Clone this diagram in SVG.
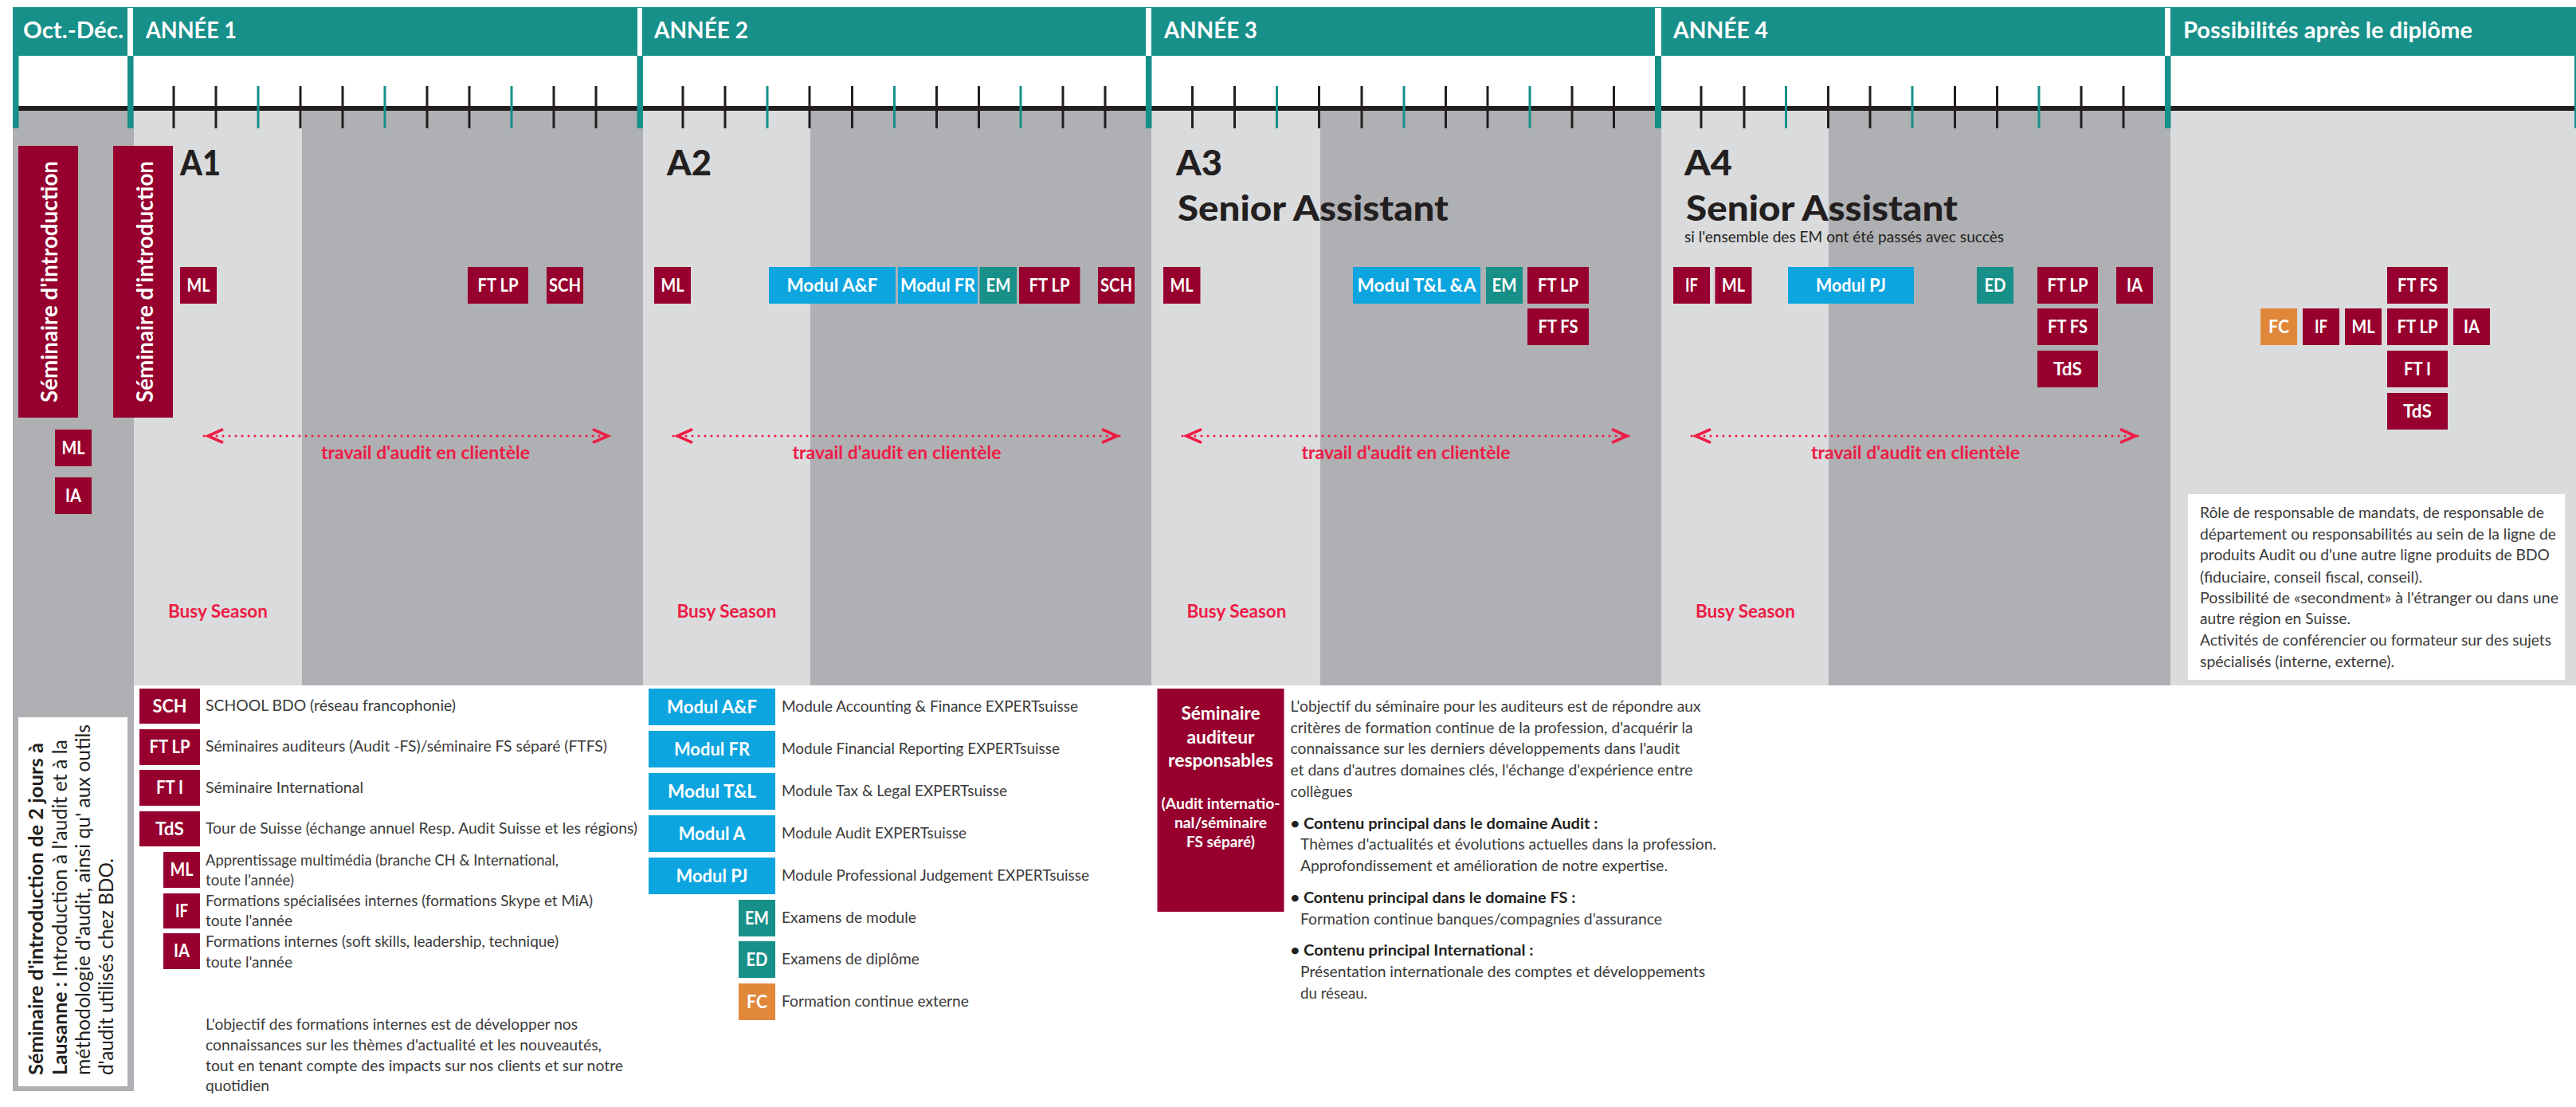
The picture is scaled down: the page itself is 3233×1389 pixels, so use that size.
<svg xmlns="http://www.w3.org/2000/svg" width="3233" height="1389" viewBox="0 0 3233 1389">
<style>
text{font-family:"Lato","Noto Sans","Liberation Sans",sans-serif}
.teal{fill:#17908a}.red{fill:#97002e}.blue{fill:#0da5e0}.org{fill:#e1873a}.lg{fill:#dadbdd}.dg{fill:#afb0b3}.wh{fill:#fff}
.b{fill:#fff;font-size:22px;font-weight:700;text-anchor:middle}
.h{fill:#fff;font-size:28px;font-weight:700}
.y{fill:#231f20;font-size:44px;font-weight:900}
.r{fill:#ed1c45;font-size:22px;font-weight:700}
.t{fill:#3a3a3a;font-size:18.5px}
.tb{fill:#231f20;font-size:18.5px;font-weight:700}
.v{fill:#fff;font-size:29px;font-weight:700}
.s{fill:#231f20;font-size:25px}
.sb{fill:#231f20;font-size:25px;font-weight:700}
.m{fill:#fff;font-size:22px;font-weight:700;text-anchor:middle}
.m2{fill:#fff;font-size:19.5px;font-weight:700;text-anchor:middle}
.tk{stroke:#231f20;stroke-width:3}.tk2{stroke:#17908a;stroke-width:3}
.arr{stroke:#ed1c45;stroke-width:3;stroke-linecap:round;stroke-dasharray:0 8;fill:none;marker-start:url(#chev);marker-end:url(#chev)}
</style>
<defs>
<marker id="chev" viewBox="0 0 30 22" refX="28" refY="11" markerWidth="30" markerHeight="22" markerUnits="userSpaceOnUse" orient="auto-start-reverse" overflow="visible"><path d="M4,2.700L23,11L4,19.300" fill="none" stroke="#ed1c45" stroke-width="3.600" stroke-dasharray="none"/></marker>
</defs>
<g id="background">
<rect class="dg" x="16" y="139" width="152" height="1230"/>
<rect class="lg" x="168" y="139" width="211" height="721"/>
<rect class="dg" x="379" y="139" width="428" height="721"/>
<rect class="lg" x="807" y="139" width="210" height="721"/>
<rect class="dg" x="1017" y="139" width="428" height="721"/>
<rect class="lg" x="1445" y="139" width="212" height="721"/>
<rect class="dg" x="1657" y="139" width="428" height="721"/>
<rect class="lg" x="2085" y="139" width="210" height="721"/>
<rect class="dg" x="2295" y="139" width="429" height="721"/>
<rect class="lg" x="2724" y="139" width="509" height="721"/>
</g>
<g id="timeline">
<rect x="16" y="133" width="3217" height="6" fill="#231f20"/>
<rect class="teal" x="16" y="9" width="3217" height="61"/>
<g class="wh"><rect x="160" y="10" width="7" height="60"/><rect x="800" y="10" width="6" height="60"/><rect x="1438" y="10" width="7" height="60"/><rect x="2077" y="10" width="8" height="60"/><rect x="2717" y="10" width="7" height="60"/></g>
<g class="teal"><rect x="16" y="70" width="7.500" height="91"/><rect x="160" y="70" width="7.500" height="91"/><rect x="799.500" y="70" width="7.500" height="91"/><rect x="1438" y="70" width="7.500" height="91"/><rect x="2077" y="70" width="8" height="91"/><rect x="2717" y="70" width="7.500" height="91"/><rect x="3231" y="70" width="2" height="91"/></g>
<g class="tk"><path d="M218,108V161M271,108V161M377,108V161M430,108V161M536,108V161M589,108V161M695,108V161M748,108V161M857,108V161M910,108V161M1016,108V161M1069.500,108V161M1175.500,108V161M1228.500,108V161M1334,108V161M1387,108V161M1496.500,108V161M1549.500,108V161M1655.500,108V161M1709,108V161M1814.500,108V161M1867,108V161M1973,108V161M2025.500,108V161M2135,108V161M2189,108V161M2294.500,108V161M2347,108V161M2453.500,108V161M2506.500,108V161M2612,108V161M2665,108V161"/></g>
<g class="tk2"><path d="M324,108V161M483,108V161M642,108V161M963,108V161M1122.500,108V161M1281,108V161M1602.500,108V161M1762,108V161M1920,108V161M2241.500,108V161M2400,108V161M2559,108V161"/></g>
</g>
<g id="headers">
<text class="h" x="29" y="48" textLength="126" lengthAdjust="spacingAndGlyphs">Oct.-Déc.</text>
<text class="h" x="183" y="48" textLength="114" lengthAdjust="spacingAndGlyphs">ANNÉE 1</text>
<text class="h" x="821" y="48" textLength="118" lengthAdjust="spacingAndGlyphs">ANNÉE 2</text>
<text class="h" x="1461" y="48" textLength="117" lengthAdjust="spacingAndGlyphs">ANNÉE 3</text>
<text class="h" x="2100" y="48" textLength="119" lengthAdjust="spacingAndGlyphs">ANNÉE 4</text>
<text class="h" x="2740" y="48" textLength="363" lengthAdjust="spacingAndGlyphs">Possibilités après le diplôme</text>
</g>
<g id="titles">
<text class="y" x="226" y="220" textLength="51" lengthAdjust="spacingAndGlyphs">A1</text>
<text class="y" x="837" y="220" textLength="56" lengthAdjust="spacingAndGlyphs">A2</text>
<text class="y" x="1476" y="220" textLength="58" lengthAdjust="spacingAndGlyphs">A3</text>
<text class="y" x="2114" y="220" textLength="60" lengthAdjust="spacingAndGlyphs">A4</text>
<text class="y" x="1478" y="277" textLength="340" lengthAdjust="spacingAndGlyphs">Senior Assistant</text>
<text class="y" x="2116" y="277" textLength="341" lengthAdjust="spacingAndGlyphs">Senior Assistant</text>
<text class="t" x="2114" y="304" textLength="401" lengthAdjust="spacingAndGlyphs" style="fill:#231f20">si l'ensemble des EM ont été passés avec succès</text>
</g>
<g id="intro-1"><rect class="red" x="23" y="183" width="75" height="341"/><text class="v" transform="translate(72,505) rotate(-90)" textLength="303" lengthAdjust="spacingAndGlyphs">Séminaire d'introduction</text></g>
<g id="intro-2"><rect class="red" x="142" y="183" width="75" height="341"/><text class="v" transform="translate(192,505) rotate(-90)" textLength="303" lengthAdjust="spacingAndGlyphs">Séminaire d'introduction</text></g>
<g id="o-ml"><rect class="red" x="69" y="539" width="46" height="46"/><text class="b" x="92" y="570" textLength="29" lengthAdjust="spacingAndGlyphs">ML</text></g>
<g id="o-ia"><rect class="red" x="69" y="599" width="46" height="46"/><text class="b" x="92" y="630" textLength="20" lengthAdjust="spacingAndGlyphs">IA</text></g>

<g id="y1-ml"><rect class="red" x="226" y="335" width="46" height="46"/><text class="b" x="249" y="366" textLength="29" lengthAdjust="spacingAndGlyphs">ML</text></g>
<g id="y1-ftlp"><rect class="red" x="587" y="335" width="76" height="46"/><text class="b" x="625" y="366" textLength="51" lengthAdjust="spacingAndGlyphs">FT LP</text></g>
<g id="y1-sch"><rect class="red" x="686" y="335" width="46" height="46"/><text class="b" x="709" y="366" textLength="40" lengthAdjust="spacingAndGlyphs">SCH</text></g>

<g id="y2-ml"><rect class="red" x="821" y="335" width="46" height="46"/><text class="b" x="844" y="366" textLength="29" lengthAdjust="spacingAndGlyphs">ML</text></g>
<g id="y2-af"><rect class="blue" x="965" y="335" width="159" height="46"/><text class="b" x="1044.500" y="366" textLength="114" lengthAdjust="spacingAndGlyphs">Modul A&amp;F</text></g>
<g id="y2-fr"><rect class="blue" x="1127" y="335" width="100" height="46"/><text class="b" x="1177" y="366" textLength="94" lengthAdjust="spacingAndGlyphs">Modul FR</text></g>
<g id="y2-em"><rect class="teal" x="1229.500" y="335" width="46.500" height="46"/><text class="b" x="1253" y="366" textLength="31" lengthAdjust="spacingAndGlyphs">EM</text></g>
<g id="y2-ftlp"><rect class="red" x="1279" y="335" width="76.500" height="46"/><text class="b" x="1317" y="366" textLength="51" lengthAdjust="spacingAndGlyphs">FT LP</text></g>
<g id="y2-sch"><rect class="red" x="1378" y="335" width="46" height="46"/><text class="b" x="1401" y="366" textLength="40" lengthAdjust="spacingAndGlyphs">SCH</text></g>

<g id="y3-ml"><rect class="red" x="1460" y="335" width="46.500" height="46"/><text class="b" x="1483" y="366" textLength="29" lengthAdjust="spacingAndGlyphs">ML</text></g>
<g id="y3-tla"><rect class="blue" x="1698" y="335" width="160" height="46"/><text class="b" x="1778" y="366" textLength="149" lengthAdjust="spacingAndGlyphs">Modul T&amp;L &amp;A</text></g>
<g id="y3-em"><rect class="teal" x="1865" y="335" width="46" height="46"/><text class="b" x="1888" y="366" textLength="31" lengthAdjust="spacingAndGlyphs">EM</text></g>
<g id="y3-ftlp"><rect class="red" x="1917" y="335" width="77" height="46"/><text class="b" x="1955.500" y="366" textLength="51" lengthAdjust="spacingAndGlyphs">FT LP</text></g>
<g id="y3-ftfs"><rect class="red" x="1917" y="387" width="77" height="46"/><text class="b" x="1955.500" y="418" textLength="50" lengthAdjust="spacingAndGlyphs">FT FS</text></g>

<g id="y4-if"><rect class="red" x="2100" y="335" width="46" height="46"/><text class="b" x="2123" y="366" textLength="16" lengthAdjust="spacingAndGlyphs">IF</text></g>
<g id="y4-ml"><rect class="red" x="2152.500" y="335" width="46" height="46"/><text class="b" x="2175.500" y="366" textLength="29" lengthAdjust="spacingAndGlyphs">ML</text></g>
<g id="y4-pj"><rect class="blue" x="2244" y="335" width="158" height="46"/><text class="b" x="2323" y="366" textLength="88" lengthAdjust="spacingAndGlyphs">Modul PJ</text></g>
<g id="y4-ed"><rect class="teal" x="2481" y="335" width="46" height="46"/><text class="b" x="2504" y="366" textLength="27" lengthAdjust="spacingAndGlyphs">ED</text></g>
<g id="y4-ftlp"><rect class="red" x="2557" y="335" width="76" height="46"/><text class="b" x="2595" y="366" textLength="51" lengthAdjust="spacingAndGlyphs">FT LP</text></g>
<g id="y4-ia"><rect class="red" x="2656" y="335" width="46" height="46"/><text class="b" x="2679" y="366" textLength="20" lengthAdjust="spacingAndGlyphs">IA</text></g>
<g id="y4-ftfs"><rect class="red" x="2557" y="387" width="76" height="46"/><text class="b" x="2595" y="418" textLength="50" lengthAdjust="spacingAndGlyphs">FT FS</text></g>
<g id="y4-tds"><rect class="red" x="2557" y="440" width="76" height="46"/><text class="b" x="2595" y="471" textLength="36" lengthAdjust="spacingAndGlyphs">TdS</text></g>

<g id="p-ftfs"><rect class="red" x="2996" y="335" width="76" height="46"/><text class="b" x="3034" y="366" textLength="50" lengthAdjust="spacingAndGlyphs">FT FS</text></g>
<g id="p-fc"><rect class="org" x="2837" y="387" width="46" height="46"/><text class="b" x="2860" y="418" textLength="26" lengthAdjust="spacingAndGlyphs">FC</text></g>
<g id="p-if"><rect class="red" x="2890" y="387" width="46" height="46"/><text class="b" x="2913" y="418" textLength="16" lengthAdjust="spacingAndGlyphs">IF</text></g>
<g id="p-ml"><rect class="red" x="2943" y="387" width="46" height="46"/><text class="b" x="2966" y="418" textLength="29" lengthAdjust="spacingAndGlyphs">ML</text></g>
<g id="p-ftlp"><rect class="red" x="2996" y="387" width="76" height="46"/><text class="b" x="3034" y="418" textLength="51" lengthAdjust="spacingAndGlyphs">FT LP</text></g>
<g id="p-ia"><rect class="red" x="3079" y="387" width="46" height="46"/><text class="b" x="3102" y="418" textLength="20" lengthAdjust="spacingAndGlyphs">IA</text></g>
<g id="p-fti"><rect class="red" x="2996" y="440" width="76" height="46"/><text class="b" x="3034" y="471" textLength="34" lengthAdjust="spacingAndGlyphs">FT I</text></g>
<g id="p-tds"><rect class="red" x="2996" y="493" width="76" height="46"/><text class="b" x="3034" y="524" textLength="36" lengthAdjust="spacingAndGlyphs">TdS</text></g>

<g id="connectors">
<line class="arr" x1="256" y1="547" x2="768" y2="547"/>
<line class="arr" x1="845" y1="547" x2="1407" y2="547"/>
<line class="arr" x1="1484" y1="547" x2="2047" y2="547"/>
<line class="arr" x1="2123" y1="547" x2="2685" y2="547"/>
</g>
<g id="red-labels">
<text class="r" x="403" y="576" textLength="262" lengthAdjust="spacingAndGlyphs">travail d'audit en clientèle</text>
<text class="r" x="994.500" y="576" textLength="262" lengthAdjust="spacingAndGlyphs">travail d'audit en clientèle</text>
<text class="r" x="1633.500" y="576" textLength="262" lengthAdjust="spacingAndGlyphs">travail d'audit en clientèle</text>
<text class="r" x="2273" y="576" textLength="262" lengthAdjust="spacingAndGlyphs">travail d'audit en clientèle</text>
<text class="r" x="211" y="775" textLength="125" lengthAdjust="spacingAndGlyphs">Busy Season</text>
<text class="r" x="849.500" y="775" textLength="125" lengthAdjust="spacingAndGlyphs">Busy Season</text>
<text class="r" x="1489.500" y="775" textLength="125" lengthAdjust="spacingAndGlyphs">Busy Season</text>
<text class="r" x="2128" y="775" textLength="125" lengthAdjust="spacingAndGlyphs">Busy Season</text>
</g>

<g id="career-note"><rect class="wh" x="2746" y="620" width="473" height="233"/>
<text class="t" x="2761" y="650" textLength="432" lengthAdjust="spacingAndGlyphs">Rôle de responsable de mandats, de responsable de</text>
<text class="t" x="2761" y="677" textLength="447" lengthAdjust="spacingAndGlyphs">département ou responsabilités au sein de la ligne de</text>
<text class="t" x="2761" y="703" textLength="439" lengthAdjust="spacingAndGlyphs">produits Audit ou d'une autre ligne produits de BDO</text>
<text class="t" x="2761" y="731" textLength="279" lengthAdjust="spacingAndGlyphs">(fiduciaire, conseil fiscal, conseil).</text>
<text class="t" x="2761" y="757" textLength="450" lengthAdjust="spacingAndGlyphs">Possibilité de «secondment» à l'étranger ou dans une</text>
<text class="t" x="2761" y="783" textLength="189" lengthAdjust="spacingAndGlyphs">autre région en Suisse.</text>
<text class="t" x="2761" y="810" textLength="441" lengthAdjust="spacingAndGlyphs">Activités de conférencier ou formateur sur des sujets</text>
<text class="t" x="2761" y="837" textLength="244" lengthAdjust="spacingAndGlyphs">spécialisés (interne, externe).</text>
</g>

<g id="intro-note"><rect class="wh" x="23" y="900" width="137" height="463"/>
<text class="sb" transform="translate(54,1349) rotate(-90)" textLength="417" lengthAdjust="spacingAndGlyphs">Séminaire d'introduction de 2 jours à</text>
<text class="s" transform="translate(84,1349) rotate(-90)" textLength="421" lengthAdjust="spacingAndGlyphs"><tspan class="sb">Lausanne :</tspan> Introduction à l'audit et à la</text>
<text class="s" transform="translate(112.500,1349) rotate(-90)" textLength="440" lengthAdjust="spacingAndGlyphs">méthodologie d'audit, ainsi qu' aux outils</text>
<text class="s" transform="translate(142,1349) rotate(-90)" textLength="272" lengthAdjust="spacingAndGlyphs">d'audit utilisés chez BDO.</text>
</g>

<g id="lg-sch"><rect class="red" x="175" y="864" width="76" height="44"/><text class="b" x="213" y="894" textLength="43" lengthAdjust="spacingAndGlyphs">SCH</text><text class="t" x="258" y="892" textLength="314" lengthAdjust="spacingAndGlyphs">SCHOOL BDO (réseau francophonie)</text></g>
<g id="lg-ftlp"><rect class="red" x="175" y="915" width="76" height="45"/><text class="b" x="213" y="945" textLength="51" lengthAdjust="spacingAndGlyphs">FT LP</text><text class="t" x="258" y="943" textLength="504" lengthAdjust="spacingAndGlyphs">Séminaires auditeurs (Audit -FS)/séminaire FS séparé (FTFS)</text></g>
<g id="lg-fti"><rect class="red" x="175" y="966" width="76" height="45"/><text class="b" x="213" y="996" textLength="34" lengthAdjust="spacingAndGlyphs">FT I</text><text class="t" x="258" y="995" textLength="198" lengthAdjust="spacingAndGlyphs">Séminaire International</text></g>
<g id="lg-tds"><rect class="red" x="175" y="1018" width="76" height="44"/><text class="b" x="213" y="1048" textLength="36" lengthAdjust="spacingAndGlyphs">TdS</text><text class="t" x="258" y="1046" textLength="542" lengthAdjust="spacingAndGlyphs">Tour de Suisse (échange annuel Resp. Audit Suisse et les régions)</text></g>
<g id="lg-ml"><rect class="red" x="205" y="1069" width="46" height="45"/><text class="b" x="228" y="1099" textLength="29" lengthAdjust="spacingAndGlyphs">ML</text><text class="t" x="258" y="1086" textLength="443" lengthAdjust="spacingAndGlyphs">Apprentissage multimédia (branche CH &amp; International,</text><text class="t" x="258" y="1111" textLength="111" lengthAdjust="spacingAndGlyphs">toute l'année)</text></g>
<g id="lg-if"><rect class="red" x="205" y="1121" width="46" height="44"/><text class="b" x="228" y="1151" textLength="16" lengthAdjust="spacingAndGlyphs">IF</text><text class="t" x="258" y="1137" textLength="486" lengthAdjust="spacingAndGlyphs">Formations spécialisées internes (formations Skype et MiA)</text><text class="t" x="258" y="1162" textLength="109" lengthAdjust="spacingAndGlyphs">toute l'année</text></g>
<g id="lg-ia"><rect class="red" x="205" y="1171" width="46" height="45"/><text class="b" x="228" y="1201" textLength="20" lengthAdjust="spacingAndGlyphs">IA</text><text class="t" x="258" y="1188" textLength="443" lengthAdjust="spacingAndGlyphs">Formations internes (soft skills, leadership, technique)</text><text class="t" x="258" y="1214" textLength="109" lengthAdjust="spacingAndGlyphs">toute l'année</text></g>
<g id="internal-note">
<text class="t" x="258" y="1292" textLength="467" lengthAdjust="spacingAndGlyphs">L'objectif des formations internes est de développer nos</text>
<text class="t" x="258" y="1318" textLength="497" lengthAdjust="spacingAndGlyphs">connaissances sur les thèmes d'actualité et les nouveautés,</text>
<text class="t" x="258" y="1344" textLength="524" lengthAdjust="spacingAndGlyphs">tout en tenant compte des impacts sur nos clients et sur notre</text>
<text class="t" x="258" y="1369" textLength="80" lengthAdjust="spacingAndGlyphs">quotidien</text>
</g>

<g id="lg-af"><rect class="blue" x="814" y="864" width="159" height="46"/><text class="b" x="893.500" y="895" textLength="113" lengthAdjust="spacingAndGlyphs">Modul A&amp;F</text><text class="t" x="981" y="893" textLength="372" lengthAdjust="spacingAndGlyphs">Module Accounting &amp; Finance EXPERTsuisse</text></g>
<g id="lg-fr"><rect class="blue" x="814" y="917" width="159" height="46"/><text class="b" x="893.500" y="948" textLength="95" lengthAdjust="spacingAndGlyphs">Modul FR</text><text class="t" x="981" y="946" textLength="349" lengthAdjust="spacingAndGlyphs">Module Financial Reporting EXPERTsuisse</text></g>
<g id="lg-tl"><rect class="blue" x="814" y="970" width="159" height="46"/><text class="b" x="893.500" y="1001" textLength="111" lengthAdjust="spacingAndGlyphs">Modul T&amp;L</text><text class="t" x="981" y="999" textLength="283" lengthAdjust="spacingAndGlyphs">Module Tax &amp; Legal EXPERTsuisse</text></g>
<g id="lg-a"><rect class="blue" x="814" y="1023" width="159" height="46"/><text class="b" x="893.500" y="1054" textLength="84" lengthAdjust="spacingAndGlyphs">Modul A</text><text class="t" x="981" y="1052" textLength="232" lengthAdjust="spacingAndGlyphs">Module Audit EXPERTsuisse</text></g>
<g id="lg-pj"><rect class="blue" x="814" y="1076" width="159" height="46"/><text class="b" x="893.500" y="1107" textLength="90" lengthAdjust="spacingAndGlyphs">Modul PJ</text><text class="t" x="981" y="1105" textLength="386" lengthAdjust="spacingAndGlyphs">Module Professional Judgement EXPERTsuisse</text></g>
<g id="lg-em"><rect class="teal" x="927" y="1129" width="46" height="46"/><text class="b" x="950" y="1160" textLength="30" lengthAdjust="spacingAndGlyphs">EM</text><text class="t" x="981" y="1158" textLength="169" lengthAdjust="spacingAndGlyphs">Examens de module</text></g>
<g id="lg-ed"><rect class="teal" x="927" y="1181" width="46" height="46"/><text class="b" x="950" y="1212" textLength="27" lengthAdjust="spacingAndGlyphs">ED</text><text class="t" x="981" y="1210" textLength="173" lengthAdjust="spacingAndGlyphs">Examens de diplôme</text></g>
<g id="lg-fc"><rect class="org" x="927" y="1234" width="46" height="46"/><text class="b" x="950" y="1265" textLength="26" lengthAdjust="spacingAndGlyphs">FC</text><text class="t" x="981" y="1263" textLength="235" lengthAdjust="spacingAndGlyphs">Formation continue externe</text></g>

<g id="seminar"><rect class="red" x="1452.500" y="864" width="159" height="280"/>
<text class="m" x="1532" y="903" textLength="99" lengthAdjust="spacingAndGlyphs">Séminaire</text>
<text class="m" x="1532" y="933" textLength="85" lengthAdjust="spacingAndGlyphs">auditeur</text>
<text class="m" x="1532" y="962" textLength="132" lengthAdjust="spacingAndGlyphs">responsables</text>
<text class="m2" x="1532" y="1015" textLength="149" lengthAdjust="spacingAndGlyphs">(Audit internatio-</text>
<text class="m2" x="1532" y="1039" textLength="116" lengthAdjust="spacingAndGlyphs">nal/séminaire</text>
<text class="m2" x="1532" y="1063" textLength="86" lengthAdjust="spacingAndGlyphs">FS séparé)</text>
</g>
<g id="seminar-note">
<text class="t" x="1619.500" y="893" textLength="515" lengthAdjust="spacingAndGlyphs">L'objectif du séminaire pour les auditeurs est de répondre aux</text>
<text class="t" x="1619.500" y="920" textLength="505" lengthAdjust="spacingAndGlyphs">critères de formation continue de la profession, d'acquérir la</text>
<text class="t" x="1619.500" y="946" textLength="489" lengthAdjust="spacingAndGlyphs">connaissance sur les derniers développements dans l'audit</text>
<text class="t" x="1619.500" y="973" textLength="505" lengthAdjust="spacingAndGlyphs">et dans d'autres domaines clés, l'échange d'expérience entre</text>
<text class="t" x="1619.500" y="1000" textLength="78" lengthAdjust="spacingAndGlyphs">collègues</text>
<text class="tb" x="1619.500" y="1040" textLength="386" lengthAdjust="spacingAndGlyphs">• Contenu principal dans le domaine Audit :</text>
<text class="t" x="1632" y="1066" textLength="522" lengthAdjust="spacingAndGlyphs">Thèmes d'actualités et évolutions actuelles dans la profession.</text>
<text class="t" x="1632" y="1093" textLength="461" lengthAdjust="spacingAndGlyphs">Approfondissement et amélioration de notre expertise.</text>
<text class="tb" x="1619.500" y="1133" textLength="358" lengthAdjust="spacingAndGlyphs">• Contenu principal dans le domaine FS :</text>
<text class="t" x="1632" y="1160" textLength="454" lengthAdjust="spacingAndGlyphs">Formation continue banques/compagnies d'assurance</text>
<text class="tb" x="1619.500" y="1199" textLength="305" lengthAdjust="spacingAndGlyphs">• Contenu principal International :</text>
<text class="t" x="1632" y="1226" textLength="508" lengthAdjust="spacingAndGlyphs">Présentation internationale des comptes et développements</text>
<text class="t" x="1632" y="1253" textLength="84" lengthAdjust="spacingAndGlyphs">du réseau.</text>
</g>
</svg>
